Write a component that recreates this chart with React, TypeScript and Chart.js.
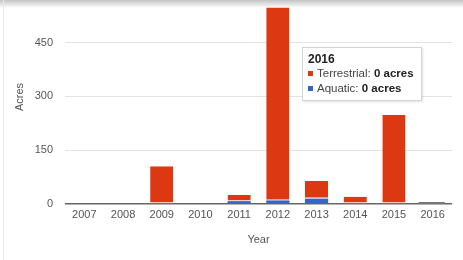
import React, { useEffect, useRef } from "react";
import { Chart, registerables } from "chart.js";

Chart.register(...registerables);

const years = ["2007", "2008", "2009", "2010", "2011", "2012", "2013", "2014", "2015", "2016"];
const terrestrial = [0, 0, 105, 0, 17, 538, 49, 20, 248, 0];
const aquatic = [0, 0, 0, 2, 8, 10, 15, 0, 0, 0];
const yTicks = [0, 150, 300, 450];
const yMax = 552;
const seriesNames = ["Terrestrial", "Aquatic"];
const seriesColors = ["#dc3912", "#3366cc"];
const highlightIndex = 9;
const unit = "acres";
const yTitle = "Acres";
const xTitle = "Year";

const FONT = "'Liberation Sans', Arial, sans-serif";

const extrasPlugin = {
  id: "extras",
  afterDatasetsDraw(chart: any) {
    const ctx = chart.ctx;
    const x = chart.scales.x.getPixelForValue(highlightIndex);
    const y = chart.scales.y.getPixelForValue(0);
    ctx.save();
    ctx.strokeStyle = "#777";
    ctx.lineWidth = 2;
    ctx.beginPath();
    ctx.moveTo(x - 14, y - 1);
    ctx.lineTo(x + 12, y - 1);
    ctx.stroke();
    ctx.restore();
  },
  afterDraw(chart: any) {
    const ctx = chart.ctx;
    ctx.save();
    ctx.fillStyle = "#555";
    ctx.font = `11px ${FONT}`;
    ctx.textAlign = "center";
    ctx.textBaseline = "middle";
    ctx.translate(20, 97);
    ctx.rotate(-Math.PI / 2);
    ctx.fillText(yTitle, 0, 0);
    ctx.restore();
  },
};

export default function App() {
  const canvasRef = useRef<HTMLCanvasElement | null>(null);

  useEffect(() => {
    const chart = new Chart(canvasRef.current as HTMLCanvasElement, {
      type: "bar",
      data: {
        labels: years,
        datasets: [
          {
            label: seriesNames[1],
            data: aquatic,
            backgroundColor: seriesColors[1],
            borderWidth: 0,
          },
          {
            label: seriesNames[0],
            data: terrestrial,
            backgroundColor: seriesColors[0],
            borderColor: "#ffffff",
            borderWidth: { bottom: 1, top: 0, left: 0, right: 0 } as any,
            borderSkipped: false,
          },
        ],
      },
      options: {
        animation: false,
        responsive: false,
        maintainAspectRatio: false,
        layout: { padding: { left: 0, right: 11, top: 6, bottom: 0 } },
        plugins: {
          legend: { display: false },
          tooltip: { enabled: false },
        },
        datasets: {
          bar: { barPercentage: 0.6, categoryPercentage: 1 },
        } as any,
        scales: {
          x: {
            stacked: true,
            grid: { display: false, drawTicks: false },
            border: { display: false },
            ticks: {
              color: "#555",
              font: { family: FONT, size: 11 },
              padding: 4,
              maxRotation: 0,
              autoSkip: false,
            },
            title: {
              display: true,
              text: xTitle,
              color: "#555",
              font: { family: FONT, size: 11 },
              padding: { top: 0, bottom: 13 },
            },
            afterFit(scale: any) {
              scale.height = 56;
              scale.paddingLeft = 0;
              scale.paddingRight = 0;
            },
          },
          y: {
            stacked: true,
            min: 0,
            max: yMax,
            afterBuildTicks(scale: any) {
              scale.ticks = yTicks.map((v) => ({ value: v }));
            },
            grid: {
              drawTicks: false,
              color: (c: any) => (c.tick && c.tick.value === 0 ? "#666" : "#e3e3e3"),
              lineWidth: (c: any) => (c.tick && c.tick.value === 0 ? 1.5 : 1),
            },
            border: { display: false },
            ticks: {
              color: "#555",
              font: { family: FONT, size: 11 },
              padding: 12,
            },
            afterFit(scale: any) {
              scale.width = 65;
              scale.paddingTop = 0;
              scale.paddingBottom = 0;
            },
          },
        },
      },
      plugins: [extrasPlugin],
    });
    return () => chart.destroy();
  }, []);

  const rowStyle: React.CSSProperties = {
    height: 15,
    lineHeight: "15px",
    display: "flex",
    alignItems: "center",
    whiteSpace: "nowrap",
  };
  const sq = (color: string): React.CSSProperties => ({
    width: 5,
    height: 5,
    background: color,
    marginRight: 4,
    flex: "none",
  });

  return (
    <div
      style={{
        position: "fixed",
        left: 0,
        top: 0,
        width: 463,
        height: 260,
        background: "#fff",
        overflow: "hidden",
      }}
    >
      <canvas ref={canvasRef} width={463} height={260} style={{ position: "absolute", left: 0, top: 0 }} />
      <div
        style={{
          position: "absolute",
          left: 0,
          top: 0,
          width: 463,
          height: 8,
          background: "linear-gradient(#c4c4c4, rgba(255,255,255,0))",
        }}
      />
      <div style={{ position: "absolute", left: 3, top: 0, width: 1, height: 260, background: "#e8e8e8" }} />
      <div
        style={{
          position: "absolute",
          left: 302,
          top: 47,
          width: 113,
          boxSizing: "content-box",
          background: "#fff",
          border: "1px solid #d4d4d4",
          boxShadow: "1px 1px 2px rgba(0,0,0,0.12)",
          padding: "4px 0 4px 5px",
          fontFamily: FONT,
          fontSize: 11.5,
          color: "#444",
        }}
      >
        <div style={{ height: 14, lineHeight: "14px", fontWeight: "bold", fontSize: 12, color: "#222" }}>
          {years[highlightIndex]}
        </div>
        <div style={rowStyle}>
          <span style={sq(seriesColors[0])} />
          <span>
            {seriesNames[0]}: <b style={{ color: "#222" }}>{terrestrial[highlightIndex]} {unit}</b>
          </span>
        </div>
        <div style={rowStyle}>
          <span style={sq(seriesColors[1])} />
          <span>
            {seriesNames[1]}: <b style={{ color: "#222" }}>{aquatic[highlightIndex]} {unit}</b>
          </span>
        </div>
      </div>
    </div>
  );
}
